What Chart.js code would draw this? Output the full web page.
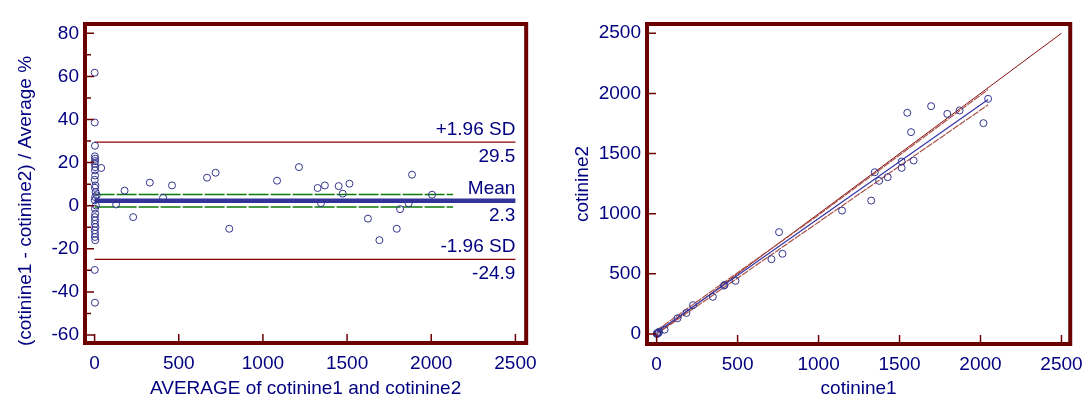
<!DOCTYPE html>
<html>
<head>
<meta charset="utf-8">
<script src="https://cdn.jsdelivr.net/npm/chart.js@4/dist/chart.umd.min.js"></script>
<style>
  html, body { margin: 0; padding: 0; background: #fff; }
  #wrap { position: relative; width: 1092px; height: 414px; }
  canvas { position: absolute; top: 0; }
  #left { left: 0; }
  #right { left: 546px; }
</style>
</head>
<body>
<div id="wrap">
  <canvas id="left" width="546" height="414"></canvas>
  <canvas id="right" width="546" height="414"></canvas>
</div>
<script>
// Bland-Altman: average vs. difference %
const baAvg = [0.5, 1, 2, 1.5, 3, 2.5, 1, 4, 2, 3, 1, 5, 2, 6, 12, 3, 1, 8, 2, 4, 1, 3, 2, 5, 1, 3, 2, 4, 1, 2,
  39, 128, 178, 229, 328, 407, 460, 668, 719, 800, 1084, 1214, 1325, 1345, 1368, 1450, 1474,
  1514, 1624, 1692, 1795, 1815, 1866, 1886, 2005];
const baDiff = [61.7, 38.6, 27.8, 22.9, 21.8, 20.7, 19.5, 17.9, 16.4, 14, 12, 9.4, 8.3, 6.3, 4.8, 4, 2.5, 0.1, -1.4, -3.7,
  -5.3, -6.8, -8.4, -9.9, -11.4, -13, -14.5, -16, -29.8, -45,
  17.5, 0.6, 7, -5.3, 10.7, 3.7, 9.4, 13, 15.3, -10.7, 11.6, 17.9, 8.2, 1.2, 9.4, 9.1, 5.6,
  10.2, -6, -16, -10.7, -1.6, 1.1, 14.4, 5.1];
const meanDiff = 2.3;
const upperLoA = 29.5;
const lowerLoA = -24.9;
const meanCI = [-0.6, 5.2];
const meanCIEnd = 2130;
const baTicksX = [0, 500, 1000, 1500, 2000, 2500];
const baTicksY = [-60, -40, -20, 0, 20, 40, 60, 80];
const baMinorY = [-50, -30, -10, 10, 30, 50, 70];

// scatter: cotinine1 vs cotinine2
const cot1 = [1, 2, 3, 4, 5, 6, 8, 10, 12, 15, 49, 129, 184, 225, 347, 415, 420, 487, 709, 756, 777,
  1145, 1325, 1347, 1374, 1427, 1513, 1513, 1587, 1548, 1571, 1695, 1795, 1871, 2047, 2018];
const cot2 = [1, 3, 2, 5, 4, 8, 7, 11, 10, 19, 36, 131, 175, 240, 309, 402, 408, 442, 622, 847, 667,
  1026, 1109, 1345, 1273, 1304, 1434, 1381, 1442, 1839, 1678, 1894, 1830, 1858, 1955, 1753];
const identityX = [0, 2500];
const regX = [0, 1000, 2047];
const regY = [15, 960, 1949];
const ciUpperY = [30, 990, 2032];
const ciLowerY = [0, 930, 1905];
const cotTicks = [0, 500, 1000, 1500, 2000, 2500];

const FRAME = "#6b0000";
const NAVY = "#000080";
const DOTS = "#34348f";
const FONT = { family: "'Liberation Sans', Arial, sans-serif", size: 19 };
const CSSFONT = "19px 'Liberation Sans', Arial, sans-serif";

const pts = (xs, ys) => xs.map((v, i) => ({ x: v, y: ys[i] }));
const fixTicks = (list) => (scale) => {
  scale.ticks = list.map((v) => ({ value: v }));
};

const framePlugin = {
  id: "frame",
  afterDraw(chart, args, opts) {
    const { ctx, chartArea: a, scales: { x, y } } = chart;
    ctx.save();
    ctx.strokeStyle = FRAME;
    ctx.lineWidth = 1.5;
    ctx.beginPath();
    x.ticks.forEach((t) => {
      const px = x.getPixelForValue(t.value);
      ctx.moveTo(px, a.bottom);
      ctx.lineTo(px, a.bottom - 9);
    });
    y.ticks.forEach((t) => {
      const py = y.getPixelForValue(t.value);
      ctx.moveTo(a.left, py);
      ctx.lineTo(a.left + 9, py);
    });
    (opts.minor || []).forEach((v) => {
      const py = y.getPixelForValue(v);
      ctx.moveTo(a.left, py);
      ctx.lineTo(a.left + 6, py);
    });
    ctx.stroke();
    ctx.lineWidth = 4;
    ctx.strokeRect(a.left, a.top, a.width, a.height);
    if (opts.yTitle) {
      ctx.fillStyle = NAVY;
      ctx.font = CSSFONT;
      ctx.textAlign = "center";
      ctx.textBaseline = "middle";
      ctx.translate(opts.yTitleX, opts.yTitleY);
      ctx.rotate(-Math.PI / 2);
      ctx.fillText(opts.yTitle, 0, 0);
    }
    ctx.restore();
  },
};

const baLabels = {
  id: "baLabels",
  afterDatasetsDraw(chart) {
    const { ctx, scales: { x, y } } = chart;
    const right = x.getPixelForValue(2500);
    ctx.save();
    ctx.fillStyle = NAVY;
    ctx.font = CSSFONT;
    ctx.textAlign = "right";
    ctx.textBaseline = "alphabetic";
    const pair = (v, top, bottom) => {
      const py = y.getPixelForValue(v);
      ctx.fillText(top, right, py - 7);
      ctx.fillText(bottom, right, py + 20);
    };
    pair(upperLoA, "+1.96 SD", upperLoA.toFixed(1));
    pair(meanDiff, "Mean", meanDiff.toFixed(1));
    pair(lowerLoA, "-1.96 SD", lowerLoA.toFixed(1));
    ctx.restore();
  },
};

const plainTicks = (extra) => Object.assign({
  color: NAVY,
  font: FONT,
  maxRotation: 0,
  autoSkip: false,
  callback: (v) => String(v),
}, extra);

new Chart(document.getElementById("left"), {
  type: "scatter",
  data: {
    datasets: [
      {
        data: pts(baAvg, baDiff),
        pointRadius: 3.5,
        pointBorderWidth: 1,
        pointBorderColor: DOTS,
        pointBackgroundColor: "rgba(0,0,0,0)",
      },
      {
        type: "line",
        data: pts([0, 2500], [meanDiff, meanDiff]),
        borderColor: "#333399",
        borderWidth: 4.5,
        pointRadius: 0,
      },
      {
        type: "line",
        data: pts([0, meanCIEnd], [meanCI[1], meanCI[1]]),
        borderColor: "#0a7a0a",
        borderWidth: 1.3,
        borderDash: [20, 2],
        pointRadius: 0,
      },
      {
        type: "line",
        data: pts([0, meanCIEnd], [meanCI[0], meanCI[0]]),
        borderColor: "#0a7a0a",
        borderWidth: 1.3,
        borderDash: [20, 2],
        pointRadius: 0,
      },
      {
        type: "line",
        data: pts([0, 2500], [upperLoA, upperLoA]),
        borderColor: "#8b0000",
        borderWidth: 1.2,
        pointRadius: 0,
      },
      {
        type: "line",
        data: pts([0, 2500], [lowerLoA, lowerLoA]),
        borderColor: "#8b0000",
        borderWidth: 1.2,
        pointRadius: 0,
      },
    ],
  },
  options: {
    responsive: false,
    animation: false,
    events: [],
    layout: { padding: { top: 24, right: 19, left: 0, bottom: 0 } },
    plugins: {
      legend: { display: false },
      tooltip: { enabled: false },
      frame: { minor: baMinorY, yTitle: "(cotinine1 - cotinine2) / Average %", yTitleX: 26, yTitleY: 201 },
    },
    scales: {
      x: {
        type: "linear",
        min: -57,
        max: 2564,
        grid: { display: false, drawTicks: false },
        border: { display: false },
        ticks: plainTicks({ padding: 9 }),
        afterBuildTicks: fixTicks(baTicksX),
        title: { display: true, text: "AVERAGE of cotinine1 and cotinine2", color: NAVY, font: FONT, padding: { bottom: 14 } },
        afterFit: (s) => { s.height = 71; },
      },
      y: {
        type: "linear",
        min: -63.7,
        max: 84.3,
        grid: { display: false, drawTicks: false },
        border: { display: false },
        ticks: plainTicks({ padding: 6 }),
        afterBuildTicks: fixTicks(baTicksY),
        afterFit: (s) => { s.width = 85; },
      },
    },
  },
  plugins: [framePlugin, baLabels],
});

new Chart(document.getElementById("right"), {
  type: "scatter",
  data: {
    datasets: [
      {
        data: pts(cot1, cot2),
        pointRadius: 3.5,
        pointBorderWidth: 1,
        pointBorderColor: DOTS,
        pointBackgroundColor: "rgba(0,0,0,0)",
      },
      {
        type: "line",
        data: pts(regX, regY),
        borderColor: "#3a3aa8",
        borderWidth: 1.3,
        pointRadius: 0,
      },
      {
        type: "line",
        data: pts(regX, ciUpperY),
        borderColor: "#a8524a",
        borderWidth: 1.2,
        borderDash: [7, 1],
        pointRadius: 0,
      },
      {
        type: "line",
        data: pts(regX, ciLowerY),
        borderColor: "#a8524a",
        borderWidth: 1.2,
        borderDash: [7, 1],
        pointRadius: 0,
      },
      {
        type: "line",
        data: pts(identityX, identityX),
        borderColor: "#8b1010",
        borderWidth: 1,
        pointRadius: 0,
      },
    ],
  },
  options: {
    responsive: false,
    animation: false,
    events: [],
    layout: { padding: { top: 24, right: 19, left: 0, bottom: 0 } },
    plugins: {
      legend: { display: false },
      tooltip: { enabled: false },
      frame: {},
    },
    scales: {
      x: {
        type: "linear",
        min: -59.5,
        max: 2554,
        grid: { display: false, drawTicks: false },
        border: { display: false },
        ticks: plainTicks({ padding: 9 }),
        afterBuildTicks: fixTicks(cotTicks),
        title: { display: true, text: "cotinine1", color: NAVY, font: FONT, padding: { bottom: 14 } },
        afterFit: (s) => { s.height = 70; },
      },
      y: {
        type: "linear",
        min: -83,
        max: 2577,
        grid: { display: false, drawTicks: false },
        border: { display: false },
        ticks: plainTicks({ padding: 6 }),
        afterBuildTicks: fixTicks(cotTicks),
        title: { display: true, text: "cotinine2", color: NAVY, font: FONT, padding: { top: 25 } },
        afterFit: (s) => { s.width = 101; },
      },
    },
  },
  plugins: [framePlugin],
});
</script>
</body>
</html>
